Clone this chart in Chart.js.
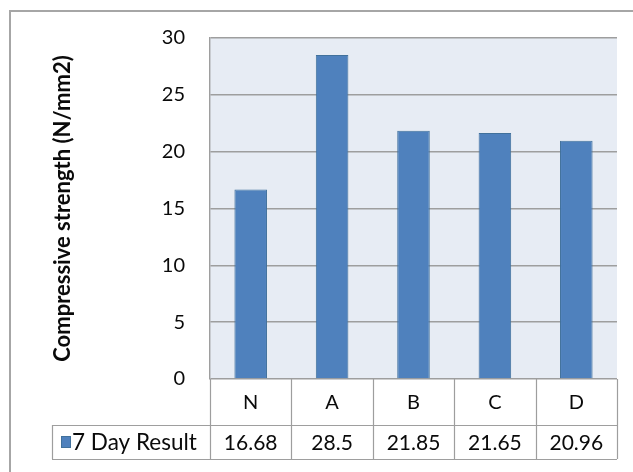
<!DOCTYPE html>
<html>
<head>
<meta charset="utf-8">
<script src="https://cdn.jsdelivr.net/npm/chart.js@4/dist/chart.umd.min.js"></script>
<style>
  html, body { margin: 0; padding: 0; background: #ffffff; }
  #wrap { width: 633px; height: 472px; position: relative; }
</style>
</head>
<body>
<div id="wrap"><canvas id="chart" width="633" height="472"></canvas></div>
<script>
// Compressive strength test results after 7 days
const categories = ['N', 'A', 'B', 'C', 'D'];
const seriesName = '7 Day Result';
const strength7Day = [16.68, 28.5, 21.85, 21.65, 20.96];
const yTicks = [0, 5, 10, 15, 20, 25, 30];

const FONT = 'Lato, "Open Sans", sans-serif';
const GRID = '#9e9e9e';
const TEXT = '#0a0a0a';
const BAR_FILL = '#4f81bd';
const BAR_EDGE = '#41719c';

// Plot-area background and outer frame
const framePlugin = {
  id: 'frame',
  beforeDraw(chart) {
    const { ctx, chartArea: a } = chart;
    ctx.save();
    ctx.fillStyle = '#ffffff';
    ctx.fillRect(0, 0, chart.width, chart.height);
    ctx.fillStyle = '#e7ecf4';
    ctx.fillRect(a.left, a.top, a.right - a.left, a.bottom - a.top);
    ctx.restore();
  },
  afterDraw(chart) {
    const { ctx } = chart;
    ctx.save();
    ctx.strokeStyle = '#a6a6a6';
    ctx.lineWidth = 2;
    ctx.strokeRect(10, 11, 800, 800);
    ctx.restore();
  }
};

// Data table under the x axis: category row + value row with legend key
const dataTablePlugin = {
  id: 'dataTable',
  afterDraw(chart) {
    const { ctx, chartArea: a } = chart;
    const x = chart.scales.x;
    const n = categories.length;
    const colW = (x.right - x.left) / n;
    const row1Top = a.bottom;
    const row2Top = a.bottom + 46;
    const row2Bottom = a.bottom + 80;
    const keyLeft = 52;

    ctx.save();
    ctx.strokeStyle = GRID;
    ctx.lineWidth = 1.2;
    ctx.beginPath();
    // column separators
    for (let i = 0; i <= n; i++) {
      const cx = Math.round(x.left + i * colW) + 0.5;
      ctx.moveTo(cx, row1Top);
      ctx.lineTo(cx, row2Bottom);
    }
    // row lines
    ctx.moveTo(keyLeft, row2Top + 0.5);
    ctx.lineTo(x.right, row2Top + 0.5);
    ctx.moveTo(keyLeft, row2Bottom + 0.5);
    ctx.lineTo(x.right, row2Bottom + 0.5);
    ctx.moveTo(keyLeft + 0.5, row2Top);
    ctx.lineTo(keyLeft + 0.5, row2Bottom);
    ctx.stroke();

    ctx.fillStyle = TEXT;
    ctx.textAlign = 'center';
    ctx.textBaseline = 'middle';
    categories.forEach((c, i) => {
      const cx = x.getPixelForValue(i);
      ctx.font = '20px ' + FONT;
      ctx.fillText(c, cx, (row1Top + row2Top) / 2 + 1);
      ctx.font = '21px ' + FONT;
      ctx.fillText(String(strength7Day[i]), cx, (row2Top + row2Bottom) / 2 + 1);
    });

    // legend key
    const midY = (row2Top + row2Bottom) / 2;
    ctx.fillStyle = BAR_FILL;
    ctx.fillRect(keyLeft + 9, midY - 6, 10, 12);
    ctx.strokeStyle = BAR_EDGE;
    ctx.lineWidth = 1;
    ctx.strokeRect(keyLeft + 9.5, midY - 5.5, 9, 11);
    ctx.fillStyle = TEXT;
    ctx.textAlign = 'left';
    ctx.font = '22.5px ' + FONT;
    ctx.fillText(seriesName, keyLeft + 20, midY + 1);
    ctx.restore();
  }
};

new Chart(document.getElementById('chart'), {
  type: 'bar',
  data: {
    labels: categories,
    datasets: [{
      label: seriesName,
      data: strength7Day,
      backgroundColor: BAR_FILL,
      borderColor: BAR_EDGE,
      borderWidth: 1,
      barPercentage: 0.4,
      categoryPercentage: 1.0
    }]
  },
  options: {
    responsive: false,
    animation: false,
    layout: { padding: { left: 0, top: 38, right: 16, bottom: 93 } },
    plugins: {
      legend: { display: false },
      tooltip: { enabled: false }
    },
    scales: {
      x: { display: false },
      y: {
        min: 0,
        max: 30,
        afterFit(scale) { scale.width = 210; },
        afterBuildTicks(scale) { scale.ticks = yTicks.map(v => ({ value: v })); },
        grid: { color: GRID, lineWidth: 1.4, drawTicks: false },
        border: { display: true, color: GRID, width: 1.4 },
        ticks: {
          padding: 25,
          color: TEXT,
          font: { family: FONT, size: 20 }
        },
        title: {
          display: true,
          text: 'Compressive strength (N/mm2)',
          color: TEXT,
          font: { family: FONT, size: 22, weight: 'bold' },
          padding: { top: 50, bottom: 0 }
        }
      }
    }
  },
  plugins: [framePlugin, dataTablePlugin]
});
</script>
</body>
</html>
